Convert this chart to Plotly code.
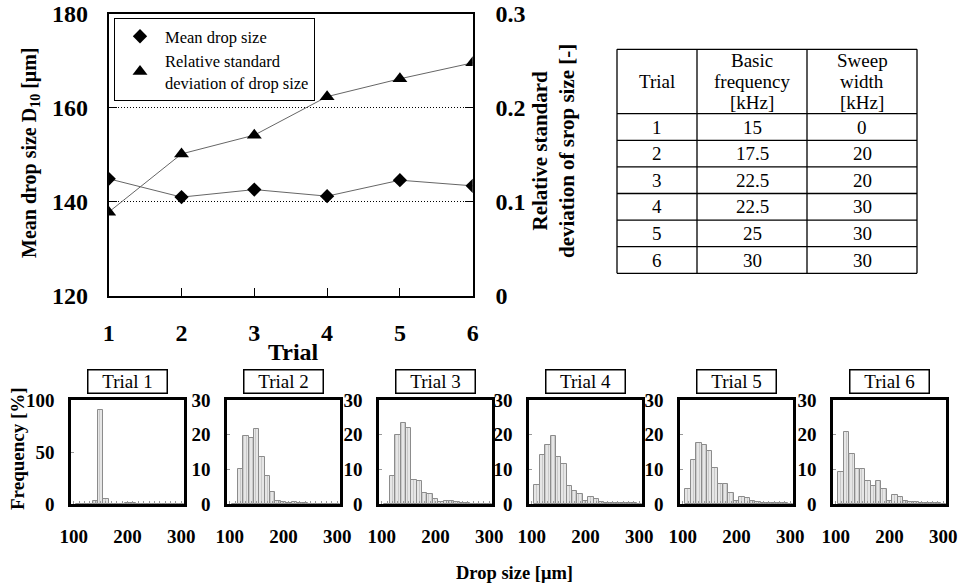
import plotly.graph_objects as go

W, H = 964, 584

# ---------------- data ----------------
trials = [1, 2, 3, 4, 5, 6]
mean_drop_size = [144.9, 141.0, 142.6, 141.2, 144.6, 143.4]
rel_std_dev = [0.089, 0.151, 0.171, 0.212, 0.231, 0.248]

table_header = [["Trial"], ["Basic", "frequency", "[kHz]"], ["Sweep", "width", "[kHz]"]]
table_trial = ["1", "2", "3", "4", "5", "6"]
table_basic_freq = ["15", "17.5", "22.5", "22.5", "25", "30"]
table_sweep_width = ["0", "20", "20", "30", "30", "30"]

bin_centers = [110, 120, 130, 140, 150, 160, 170, 180, 190, 200,
               210, 220, 230, 240, 250, 260, 270, 280, 290, 300]
freq_trial1 = [0, 0, 0, 3, 90, 5, 0, 0, 0, 1, 0.5, 0, 0, 0, 0, 0, 0, 0, 0, 0]
freq_trial2 = [0, 10, 19.5, 19, 21.5, 13.5, 8, 3.5, 1, 0.5, 0.3, 0.5, 0.2, 0.2, 0.1, 0.1, 0.1, 0.1, 0.1, 0.1]
freq_trial3 = [0, 8, 20, 23.5, 22, 7, 6.7, 3.3, 3, 1.5, 0.5, 0.8, 0.8, 0.7, 0.2, 0.2, 0.1, 0.1, 0.1, 0.1]
freq_trial4 = [5.5, 14, 17, 19.7, 13.5, 11.5, 5.3, 3.8, 2.8, 1, 2, 1.3, 0.5, 0.3, 0.3, 0.2, 0.2, 0.3, 0.2, 0.1]
freq_trial5 = [4.2, 12.7, 17.5, 17, 15.3, 10.5, 5.7, 5.7, 3.1, 1, 1.9, 1.6, 1, 0.6, 0.3, 0.3, 0.2, 0.2, 0.2, 0.1]
freq_trial6 = [9.3, 20.7, 14.5, 10, 10, 6.7, 5.3, 6.6, 4.4, 1, 2.7, 1.9, 1, 0.6, 0.5, 0.3, 0.3, 0.2, 0.2, 0.1]
hist_freqs = [freq_trial1, freq_trial2, freq_trial3, freq_trial4, freq_trial5, freq_trial6]
hist_titles = ["Trial 1", "Trial 2", "Trial 3", "Trial 4", "Trial 5", "Trial 6"]
hist_yranges = [[0, 100], [0, 30], [0, 30], [0, 30], [0, 30], [0, 30]]
hist_yticks = [[0, 50, 100], [0, 10, 20, 30], [0, 10, 20, 30], [0, 10, 20, 30], [0, 10, 20, 30], [0, 10, 20, 30]]
hist_xticks = [100, 200, 300]

# ---------------- helpers ----------------
SERIF = "Liberation Serif"


def px(xp):
    return xp / W


def py(yp):
    return 1 - yp / H


def bold(size):
    return dict(family=SERIF, size=size, color="black", weight="bold")


fig = go.Figure()

# ---------------- main chart ----------------
fig.add_trace(go.Scatter(x=trials, y=mean_drop_size, mode="lines",
                         line=dict(color="#666666", width=1), showlegend=False,
                         xaxis="x", yaxis="y", hoverinfo="skip"))
fig.add_trace(go.Scatter(x=trials, y=rel_std_dev, mode="lines",
                         line=dict(color="#666666", width=1), showlegend=False,
                         xaxis="x", yaxis="y2", hoverinfo="skip"))
fig.add_trace(go.Scatter(x=trials, y=mean_drop_size, mode="markers",
                         marker=dict(symbol="diamond", size=11, color="black"),
                         name="Mean drop size", xaxis="x", yaxis="y"))
fig.add_trace(go.Scatter(x=trials, y=rel_std_dev, mode="markers",
                         marker=dict(symbol="triangle-up", size=13, color="black"),
                         name="Relative standard<br>deviation of drop size",
                         xaxis="x", yaxis="y2"))

layout = dict(
    width=W, height=H,
    margin=dict(l=0, r=0, t=0, b=0),
    paper_bgcolor="white", plot_bgcolor="white",
    showlegend=True,
    legend=dict(x=px(114), y=py(18), xanchor="left", yanchor="top",
                bordercolor="black", borderwidth=1, bgcolor="white",
                font=dict(family=SERIF, size=16.5, color="black"),
                tracegroupgap=0, itemwidth=40),
    bargap=0,
)

main_dom_x = [px(108.7), px(472.7)]
main_dom_y = [py(295.7), py(14)]

layout["xaxis"] = dict(domain=main_dom_x, anchor="y", range=[1, 6],
                       tickvals=trials, ticks="inside", ticklen=8, tickwidth=1,
                       tickcolor="black", showline=True, linewidth=2,
                       linecolor="black", mirror=True, showgrid=False,
                       zeroline=False, tickfont=bold(24),
                       ticklabelstandoff=14, automargin=False)
layout["yaxis"] = dict(domain=main_dom_y, anchor="x", range=[120, 180],
                       tickvals=[120, 140, 160, 180], ticks="inside", ticklen=8,
                       tickcolor="black", showline=True, linewidth=2,
                       linecolor="black", showgrid=True, gridcolor="black",
                       griddash="1px,2px", gridwidth=1, zeroline=False,
                       tickfont=bold(24), ticklabelstandoff=14, automargin=False)
layout["yaxis2"] = dict(overlaying="y", anchor="x", side="right",
                        range=[0, 0.3], tickvals=[0, 0.1, 0.2, 0.3],
                        ticktext=["0", "0.1", "0.2", "0.3"],
                        ticks="inside", ticklen=8, tickcolor="black",
                        showline=True, linewidth=2, linecolor="black",
                        showgrid=False, zeroline=False, tickfont=bold(24),
                        ticklabelstandoff=16, automargin=False)

annotations = [
    dict(text="Mean drop size D<sub>10</sub> [μm]", x=px(30), y=py(153),
         xref="paper", yref="paper", showarrow=False, textangle=-90,
         font=bold(20), xanchor="center", yanchor="middle"),
    dict(text="Relative standard<br>deviation of srop size [-]", x=px(553),
         y=py(151), xref="paper", yref="paper", showarrow=False,
         textangle=-90, font=bold(21), xanchor="center", yanchor="middle"),
    dict(text="Trial", x=px(293), y=py(352), xref="paper", yref="paper",
         showarrow=False, font=bold(24), xanchor="center", yanchor="middle"),
    dict(text="Frequency [%]", x=px(17), y=py(449), xref="paper",
         yref="paper", showarrow=False, textangle=-90, font=bold(19),
         xanchor="center", yanchor="middle"),
    dict(text="Drop size [μm]", x=px(514), y=py(573), xref="paper",
         yref="paper", showarrow=False, font=bold(18.5), xanchor="center",
         yanchor="middle"),
]
shapes = []

# ---------------- table (grid + text) ----------------
col_edges = [617, 697, 807, 917]
header_top, header_bot = 49.3, 113.7
row_h = 26.6
n_rows = len(table_trial)
row_edges = [header_top, header_bot] + [header_bot + row_h * (k + 1) for k in range(n_rows)]
tline = dict(color="black", width=1.3)
for xe in col_edges:
    shapes.append(dict(type="line", xref="paper", yref="paper",
                       x0=px(xe), x1=px(xe), y0=py(row_edges[0]), y1=py(row_edges[-1]),
                       line=tline))
for ye in row_edges:
    shapes.append(dict(type="line", xref="paper", yref="paper",
                       x0=px(col_edges[0]), x1=px(col_edges[-1]), y0=py(ye), y1=py(ye),
                       line=tline))
tfont = dict(family=SERIF, size=19, color="black")
head_mid = (header_top + header_bot) / 2
line_gap = 21
for c, lines in enumerate(table_header):
    cx = (col_edges[c] + col_edges[c + 1]) / 2
    n = len(lines)
    for j, t in enumerate(lines):
        yy = head_mid + (j - (n - 1) / 2) * line_gap
        annotations.append(dict(text=t, x=px(cx), y=py(yy), xref="paper",
                                yref="paper", showarrow=False, font=tfont,
                                xanchor="center", yanchor="middle"))
for c, col in enumerate([table_trial, table_basic_freq, table_sweep_width]):
    cx = (col_edges[c] + col_edges[c + 1]) / 2
    for r, t in enumerate(col):
        yy = header_bot + row_h * (r + 0.5)
        annotations.append(dict(text=t, x=px(cx), y=py(yy), xref="paper",
                                yref="paper", showarrow=False, font=tfont,
                                xanchor="center", yanchor="middle"))

# ---------------- histograms ----------------
hist_lefts = [71, 227, 379, 529, 680, 833]
hist_w = 113
hist_top, hist_bot = 400, 504

for i in range(6):
    n = i + 3
    xa, ya = f"x{n}", f"y{n}"
    fig.add_trace(go.Bar(x=bin_centers, y=hist_freqs[i], width=10,
                         marker=dict(color="#dedede",
                                     line=dict(color="#8c8c8c", width=1),
                                     pattern=dict(shape="|", fgcolor="#a8a8a8",
                                                  bgcolor="#e6e6e6", size=3,
                                                  solidity=0.3)),
                         showlegend=False, xaxis=xa, yaxis=ya,
                         hoverinfo="skip"))
    l = hist_lefts[i]
    layout[f"xaxis{n}"] = dict(domain=[px(l), px(l + hist_w)], anchor=ya,
                               range=[95, 305], tickvals=hist_xticks,
                               ticks="", showline=True, linewidth=2.5,
                               linecolor="black", mirror=True, showgrid=False,
                               zeroline=False, tickfont=bold(19),
                               ticklabelstandoff=13, automargin=False,
                               minor=dict(ticks="inside", dtick=10, tick0=100,
                                          ticklen=3, tickcolor="#999999",
                                          showgrid=False))
    layout[f"yaxis{n}"] = dict(domain=[py(hist_bot), py(hist_top)], anchor=xa,
                               range=hist_yranges[i], tickvals=hist_yticks[i],
                               ticks="inside", ticklen=3, tickcolor="#999999",
                               showline=True, linewidth=2.5, linecolor="black",
                               mirror=True, showgrid=False, zeroline=False,
                               tickfont=bold(19), ticklabelstandoff=10,
                               automargin=False)
    annotations.append(dict(text=hist_titles[i], x=px(l + hist_w / 2),
                            y=py(382), xref="paper", yref="paper",
                            showarrow=False, bordercolor="black",
                            borderwidth=1.5, bgcolor="white", width=76,
                            height=20, borderpad=1,
                            font=dict(family=SERIF, size=19, color="black"),
                            xanchor="center", yanchor="middle"))

layout["annotations"] = annotations
layout["shapes"] = shapes
fig.update_layout(**layout)

fig.write_html("out.html")
